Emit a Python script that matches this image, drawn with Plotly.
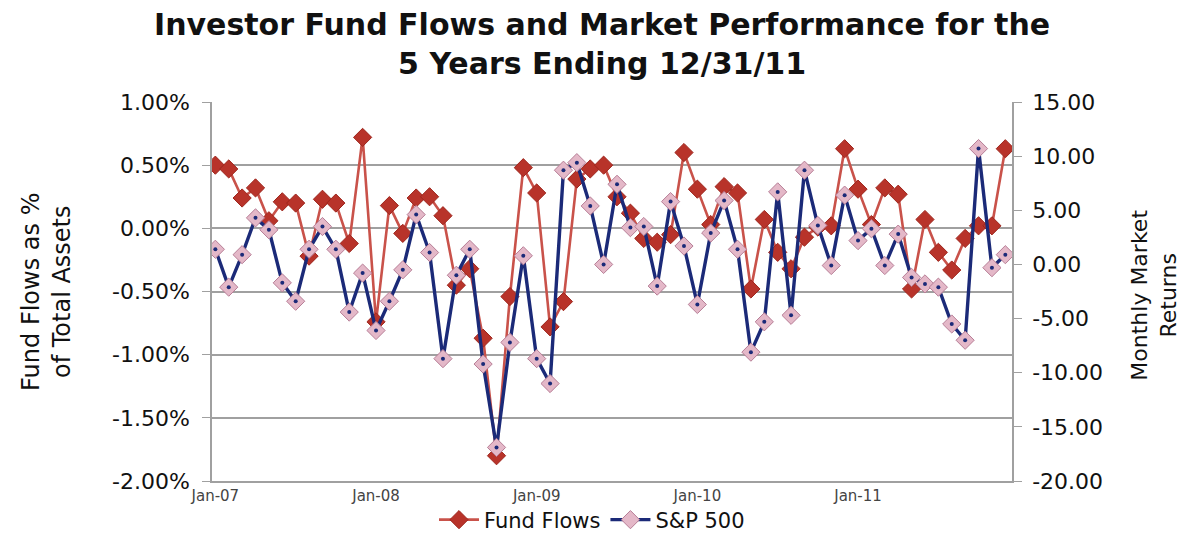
import numpy as np
import pandas as pd
import plotly.graph_objects as go

# Monthly observations, Jan 2007 - Dec 2011
months = pd.date_range("2007-01-01", periods=60, freq="MS")
month_labels = [d.strftime("%b-%y") for d in months]

# Net fund flows as % of total assets (left axis)
fund_flows = [
    0.50, 0.47, 0.24, 0.32, 0.06, 0.21, 0.20, -0.22, 0.23, 0.20, -0.12, 0.72,
    -0.74, 0.18, -0.04, 0.24, 0.25, 0.10, -0.45, -0.32, -0.87, -1.80, -0.54, 0.48,
    0.28, -0.78, -0.58, 0.39, 0.47, 0.50, 0.25, 0.12, -0.08, -0.11, -0.05, 0.60,
    0.31, 0.03, 0.33, 0.28, -0.48, 0.07, -0.19, -0.32, -0.07, 0.01, 0.02, 0.63,
    0.31, 0.03, 0.32, 0.27, -0.48, 0.07, -0.19, -0.33, -0.08, 0.02, 0.02, 0.63,
]

# S&P 500 monthly returns (right axis)
sp500 = [
    1.4, -2.1, 0.9, 4.3, 3.2, -1.7, -3.4, 1.4, 3.5, 1.4, -4.4, -0.8,
    -6.1, -3.4, -0.5, 4.6, 1.1, -8.7, -1.0, 1.4, -9.2, -16.9, -7.2, 0.8,
    -8.7, -11.0, 8.7, 9.4, 5.4, 0.0, 7.4, 3.4, 3.5, -2.0, 5.8, 1.7,
    -3.7, 2.9, 5.9, 1.4, -8.1, -5.3, 6.7, -4.7, 8.7, 3.6, -0.1, 6.4,
    2.2, 3.3, -0.1, 2.8, -1.2, -1.8, -2.1, -5.5, -7.0, 10.7, -0.3, 0.9,
]

year_ticks = ["Jan-07", "Jan-08", "Jan-09", "Jan-10", "Jan-11"]
flow_ticks = [1.0, 0.5, 0.0, -0.5, -1.0, -1.5, -2.0]
return_ticks = [15, 10, 5, 0, -5, -10, -15, -20]

x = np.arange(len(months))
tick_pos = [month_labels.index(t) for t in year_ticks]

RED = "#B8332A"
RED_LINE = "#C9524A"
NAVY = "#1B2A78"
PINK = "#E4B8C8"
PINK_EDGE = "#B77E96"
GRID = "#A0A0A0"
FONT = "DejaVu Sans, Verdana, sans-serif"

fig = go.Figure()

fig.add_trace(go.Scatter(
    x=x, y=fund_flows, name="Fund Flows", mode="lines+markers",
    line=dict(color=RED_LINE, width=2.6),
    marker=dict(symbol="diamond", size=14, color=RED,
                line=dict(color="#9E261D", width=1)),
    yaxis="y", customdata=month_labels,
    hovertemplate="%{customdata}: %{y:.2f}%<extra>Fund Flows</extra>",
))

fig.add_trace(go.Scatter(
    x=x, y=sp500, name="S&P 500", mode="lines+markers",
    line=dict(color=NAVY, width=3.4),
    marker=dict(symbol="diamond", size=14, color=PINK,
                line=dict(color=PINK_EDGE, width=1)),
    yaxis="y2", customdata=month_labels,
    hovertemplate="%{customdata}: %{y:.2f}<extra>S&P 500</extra>",
))

# dark centre dot inside each S&P 500 diamond
fig.add_trace(go.Scatter(
    x=x, y=sp500, mode="markers", showlegend=False, hoverinfo="skip",
    marker=dict(symbol="circle", size=4, color=NAVY),
    yaxis="y2",
))

x_range = [-0.25, len(months) - 0.5]

fig.update_layout(
    width=1184, height=537,
    margin=dict(l=212, r=172, t=102, b=56, autoexpand=False),
    paper_bgcolor="white", plot_bgcolor="white",
    font=dict(family=FONT, color="#111111"),
    xaxis=dict(
        range=x_range, tickmode="array", tickvals=tick_pos, ticktext=year_ticks,
        showgrid=False, zeroline=False, showline=True, linecolor=GRID, linewidth=1.5,
        ticks="", ticklabelstandoff=0, automargin=False,
        tickfont=dict(family=FONT, size=15, color="#444444"),
    ),
    xaxis2=dict(
        overlaying="x", anchor="free", position=2 / 3, range=x_range,
        tickmode="linear", tick0=0, dtick=1, ticks="outside", ticklen=5,
        tickcolor=GRID, showticklabels=False, showgrid=False, zeroline=False,
        showline=True, linecolor=GRID, linewidth=1.5,
    ),
    yaxis=dict(
        range=[-2, 1], tickmode="array", tickvals=flow_ticks,
        ticktext=[f"{v:.2f}%" for v in flow_ticks],
        showgrid=True, gridcolor=GRID, gridwidth=1.5, zeroline=False,
        showline=True, linecolor=GRID, linewidth=1.5, automargin=False,
        ticks="outside", ticklen=8, tickcolor=GRID, ticklabelstandoff=8,
        tickfont=dict(family=FONT, size=22, color="#111111"),
    ),
    yaxis2=dict(
        overlaying="y", side="right", range=[-20, 15], tickmode="array",
        tickvals=return_ticks, ticktext=[f"{v:.2f}" for v in return_ticks],
        showgrid=False, zeroline=False, showline=True, linecolor=GRID, linewidth=1.5,
        automargin=False,
        ticks="outside", ticklen=8, tickcolor=GRID, ticklabelstandoff=6,
        tickfont=dict(family=FONT, size=22, color="#111111"),
    ),
    legend=dict(
        orientation="h", x=0.5, xref="container", xanchor="center",
        y=1 - 520 / 537, yref="container", yanchor="middle",
        font=dict(family=FONT, size=21, color="#111111"),
        bgcolor="rgba(0,0,0,0)", itemwidth=40, tracegroupgap=0,
    ),
    annotations=[
        dict(text="<b>Investor Fund Flows and Market Performance for the<br>5 Years Ending 12/31/11</b>",
             xref="paper", yref="paper", x=0.4875, y=1.152,
             xanchor="center", yanchor="middle", showarrow=False,
             font=dict(family=FONT, size=30, color="#111111")),
        dict(text="Fund Flows as %<br>of Total Assets", textangle=-90,
             xref="paper", yref="paper", x=-0.207, y=0.5,
             xanchor="center", yanchor="middle", showarrow=False,
             font=dict(family=FONT, size=24, color="#111111")),
        dict(text="Monthly Market<br>Returns", textangle=-90,
             xref="paper", yref="paper", x=1.178, y=0.49,
             xanchor="center", yanchor="middle", showarrow=False,
             font=dict(family=FONT, size=22, color="#111111")),
    ],
    showlegend=True,
)

fig.write_html("out.html")
